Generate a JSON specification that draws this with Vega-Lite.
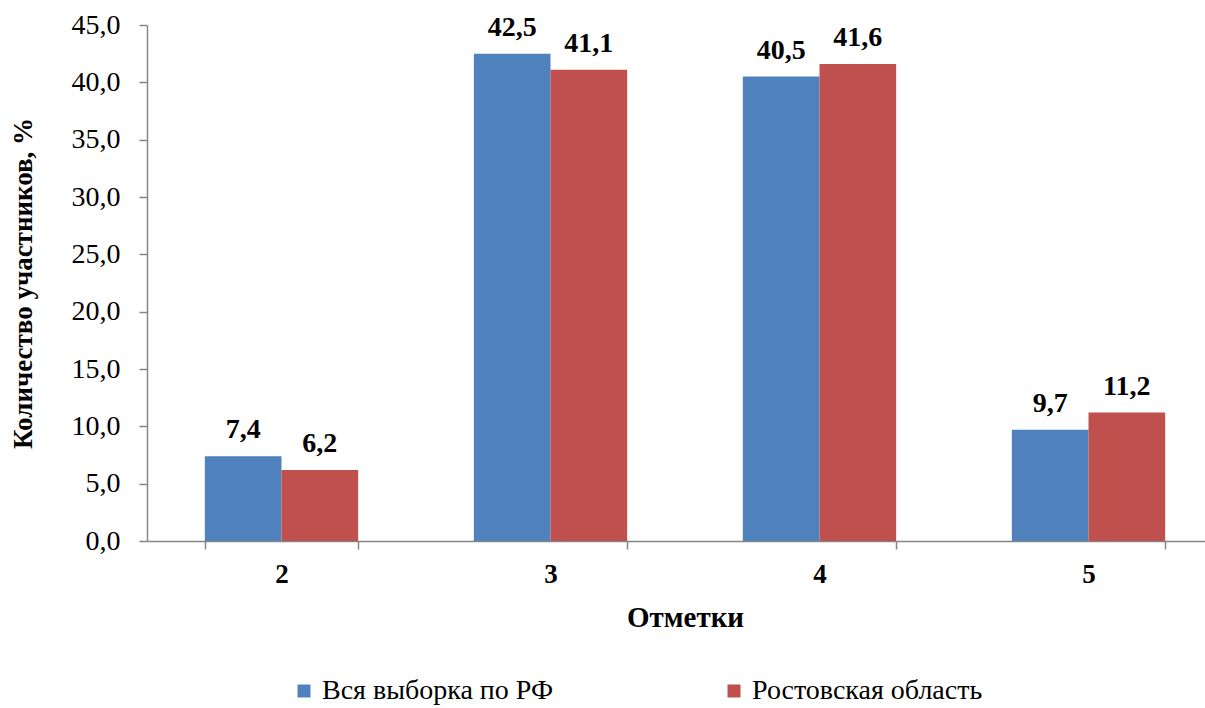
{
  "$schema": "https://vega.github.io/schema/vega-lite/v6.json",
  "autosize": "none",
  "width": 1058,
  "height": 516,
  "padding": {"left": 147, "top": 25, "right": 0, "bottom": 167},
  "background": "white",
  "config": {
    "locale": {"number": {"decimal": ",", "thousands": " ", "grouping": [3], "currency": ["", ""]}},
    "view": {"stroke": null},
    "font": "Liberation Serif",
    "axis": {"labelFont": "Liberation Serif", "titleFont": "Liberation Serif", "grid": false, "domainColor": "#868686", "tickColor": "#868686", "labelColor": "black", "titleColor": "black"},
    "legend": {"labelFont": "Liberation Serif", "labelColor": "black"}
  },
  "data": {
    "values": [
      {"mark": "2", "series": "Вся выборка по РФ", "value": 7.4},
      {"mark": "2", "series": "Ростовская область", "value": 6.2},
      {"mark": "3", "series": "Вся выборка по РФ", "value": 42.5},
      {"mark": "3", "series": "Ростовская область", "value": 41.1},
      {"mark": "4", "series": "Вся выборка по РФ", "value": 40.5},
      {"mark": "4", "series": "Ростовская область", "value": 41.6},
      {"mark": "5", "series": "Вся выборка по РФ", "value": 9.7},
      {"mark": "5", "series": "Ростовская область", "value": 11.2}
    ]
  },
  "encoding": {
    "x": {
      "field": "mark", "type": "nominal",
      "scale": {"range": [0, 1076], "paddingInner": 0.43, "paddingOuter": 0.215},
      "axis": {
        "title": "Отметки", "titleFontSize": 29, "titleFontWeight": "bold", "titlePadding": 16,
        "labelFontSize": 27, "labelFontWeight": "bold", "labelAngle": 0, "labelPadding": 12,
        "tickBand": "extent", "tickSize": 8, "domainWidth": 1.5, "tickWidth": 1.5
      }
    },
    "xOffset": {"field": "series", "type": "nominal", "scale": {"paddingInner": 0, "paddingOuter": 0}},
    "y": {
      "field": "value", "type": "quantitative",
      "scale": {"domain": [0, 45], "nice": false},
      "axis": {
        "title": "Количество участников, %", "titleFontSize": 27, "titleFontWeight": "bold", "titlePadding": 34,
        "labelFontSize": 28, "labelPadding": 19, "values": [0, 5, 10, 15, 20, 25, 30, 35, 40, 45],
        "format": ".1f",
        "tickSize": 8, "domainWidth": 1.5, "tickWidth": 1.5
      }
    }
  },
  "layer": [
    {
      "mark": {"type": "bar"},
      "encoding": {
        "color": {
          "field": "series", "type": "nominal",
          "scale": {"domain": ["Вся выборка по РФ", "Ростовская область"], "range": ["#4F81BD", "#C0504D"]},
          "legend": {
            "title": null, "orient": "none", "direction": "horizontal",
            "legendX": 143, "legendY": 652,
            "labelFontSize": 28, "labelLimit": 400, "symbolType": "square", "symbolSize": 169,
            "symbolStrokeWidth": 0, "columnPadding": 166, "labelOffset": 4,
            "padding": 0, "offset": 0
          }
        }
      }
    },
    {
      "mark": {"type": "text", "fontSize": 28, "fontWeight": "bold", "baseline": "middle", "dy": -26, "color": "black"},
      "encoding": {
        "text": {"field": "value", "type": "quantitative", "format": ".1f"}
      }
    }
  ]
}
